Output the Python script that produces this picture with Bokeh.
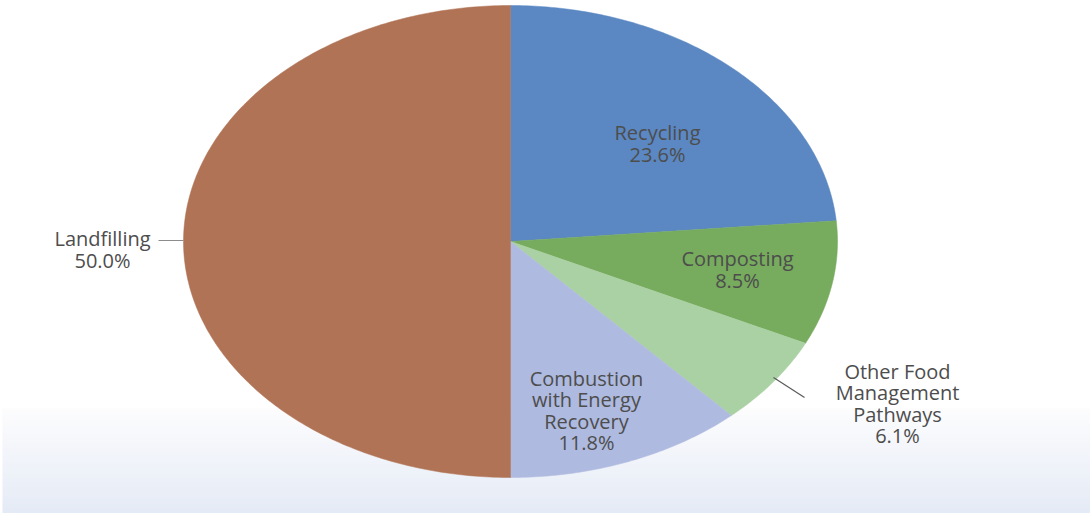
import numpy as np
from bokeh.plotting import figure
from bokeh.models import Range1d, ColumnDataSource
from bokeh.core.properties import value
from bokeh.embed import file_html
from bokeh.resources import INLINE

# ---- data ----
categories = ["Recycling", "Composting", "Other Food\nManagement\nPathways",
              "Combustion\nwith Energy\nRecovery", "Landfilling"]
percent = [23.6, 8.5, 6.1, 11.8, 50.0]
colors = ["#5B88C3", "#77AB5E", "#AAD1A3", "#AEBADF", "#B07355"]

# ---- layout ----
W, H = 1090, 513
cx, cy, rx, ry = 510, 241, 327, 236

p = figure(width=W, height=H, output_backend="svg", toolbar_location=None,
           x_range=Range1d(0, W), y_range=Range1d(H, 0),
           min_border=0, outline_line_color=None, background_fill_color="white",
           border_fill_color="white")
p.axis.visible = False
p.grid.visible = False

# background gradient band at bottom
g_top, g_bot = 408, H
n = 60
c0 = np.array([253, 253, 254]); c1 = np.array([229, 235, 246])
img = np.zeros((n, 1), dtype=np.uint32)
view = img.view(dtype=np.uint8).reshape((n, 1, 4))
for i in range(n):
    t = i / (n - 1)
    c = (c0 * (1 - t) + c1 * t).astype(np.uint8)
    view[i, 0, 0:3] = c
    view[i, 0, 3] = 255
p.image_rgba(image=[img], x=2, y=g_top, dw=W - 2, dh=g_bot - g_top)

# pie slices (elliptical), clockwise from 12 o'clock
vals = np.array(percent) / sum(percent)
ends = np.cumsum(vals) * 2 * np.pi
starts = ends - vals * 2 * np.pi
xs, ys = [], []
for s, e in zip(starts, ends):
    th = np.linspace(s, e, max(4, int((e - s) * 80)))
    xs.append(np.concatenate([[cx], cx + rx * np.sin(th)]).tolist())
    ys.append(np.concatenate([[cy], cy - ry * np.cos(th)]).tolist())
p.patches(xs, ys, fill_color=colors, line_color=colors, line_width=0.5)

# leader lines
p.line([158, 183], [240, 240], line_color="#8C8C8C", line_width=1.2)
p.line([773, 804], [377, 397], line_color="#595959", line_width=1.2)

# labels
label_text = [f"{c}\n{v:.1f}%" for c, v in zip(categories, percent)]
label_x = [657, 737, 897, 586, 102]
label_y = [143, 269, 403, 410, 249]
src = ColumnDataSource(dict(x=label_x, y=label_y, t=label_text))
p.text(x="x", y="y", text="t", source=src, text_align="center",
       text_baseline="middle", text_font=value("Open Sans"),
       text_font_size="20px", text_color="#4D4D4D", text_line_height=0.8)

open("out.html", "w").write(file_html(p, INLINE))
